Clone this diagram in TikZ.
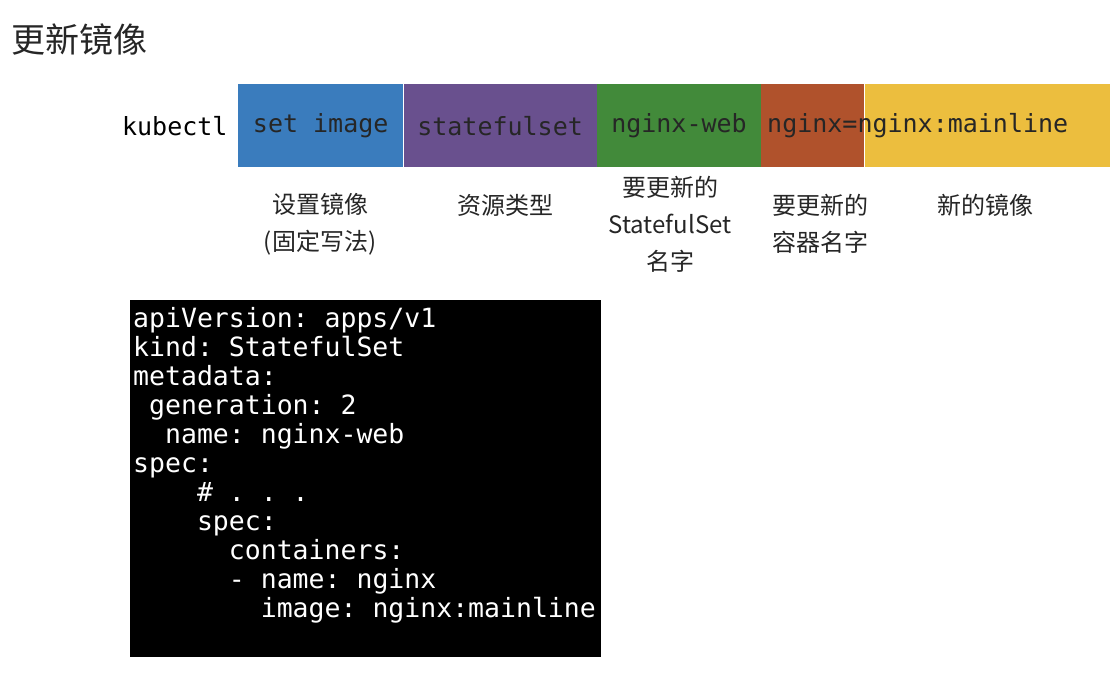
\documentclass[tikz,border=0pt]{standalone}
\usepackage{fontspec}
\setmainfont{Noto Sans CJK SC}
\setmonofont{DejaVu Sans Mono}
\newfontfamily\cjk{Noto Sans CJK SC}
\begin{document}
\begin{tikzpicture}[x=1pt,y=-1pt,
  seg/.style={draw=none,minimum height=83pt,inner sep=0pt,font=\fontsize{25}{25}\selectfont\ttfamily,text=black!85},
  lab/.style={align=center,font=\fontsize{24}{37}\selectfont\cjk,text=black!85}]
\useasboundingbox (0,0) rectangle (1114,676);
\node[anchor=west,font=\fontsize{34}{34}\selectfont\cjk,text=black!85] (title) at (8,40) {更新镜像};
\node[anchor=east,font=\fontsize{25}{25}\selectfont\ttfamily] (kc) at (231,126) {kubectl};
\node[seg,fill={rgb,255:red,58;green,124;blue,189},minimum width=165pt,anchor=west] (b1) at (238,126) {set image};
\node[seg,fill={rgb,255:red,105;green,80;blue,142},minimum width=193pt,anchor=west] (b2) at (b1.east) {statefulset};
\node[seg,fill={rgb,255:red,66;green,138;blue,58},minimum width=164pt,anchor=west] (b3) at (b2.east) {nginx-web};
\node[seg,fill={rgb,255:red,176;green,82;blue,44},minimum width=103pt,anchor=west] (b4) at (b3.east) {};
\node[seg,fill={rgb,255:red,236;green,190;blue,62},minimum width=245pt,anchor=west] (b5) at (b4.east) {};
\node[anchor=west,font=\fontsize{25}{25}\selectfont\ttfamily,text=black!85,inner sep=0pt] (t4) at (767,126) {nginx=nginx:mainline};
\node[lab] (l1) at (320,224) {设置镜像\\(固定写法)};
\node[lab] (l2) at (505,205) {资源类型};
\node[lab] (l3) at (670,224) {要更新的\\StatefulSet\\名字};
\node[lab] (l4) at (820,224) {要更新的\\容器名字};
\node[lab] (l5) at (985,205) {新的镜像};
\fill[black] (130,300) rectangle (601,657);
\node[anchor=north west,align=left,text=white,inner sep=0pt,font=\fontsize{26.5}{29}\selectfont\ttfamily] (code) at (133,307) {%
apiVersion: apps/v1\\
kind: StatefulSet\\
metadata:\\
~generation: 2\\
~~name: nginx-web\\
spec:\\
~~~~\# . . .\\
~~~~spec:\\
~~~~~~containers:\\
~~~~~~- name: nginx\\
~~~~~~~~image: nginx:mainline};
\end{tikzpicture}
\end{document}
